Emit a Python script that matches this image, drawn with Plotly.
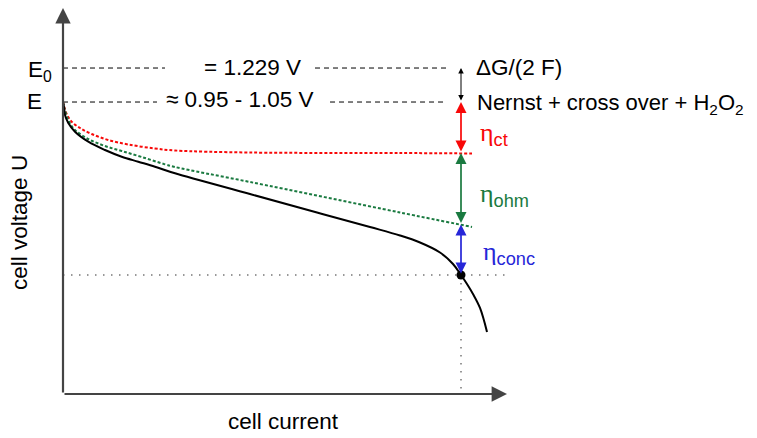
import plotly.graph_objects as go

# ---------------- data (arbitrary, normalised units) ----------------
# cell current (fraction of axis) and cell voltage (fraction of axis)
cur_black = [0.0, 0.0023, 0.0045, 0.0119, 0.027, 0.057, 0.0946, 0.1322, 0.1696, 0.2072,
             0.2523, 0.4212, 0.5721, 0.6914, 0.759, 0.8041, 0.8491, 0.8784, 0.8964,
             0.9099, 0.9234, 0.9392, 0.955]
volt_black = [0.7506, 0.738, 0.7172, 0.6967, 0.6743, 0.6486, 0.6272, 0.61, 0.5972, 0.5843,
              0.5674, 0.5141, 0.4666, 0.4293, 0.4075, 0.3895, 0.3638, 0.3342, 0.3059,
              0.2828, 0.2571, 0.2211, 0.1594]

cur_red = [0.0, 0.0023, 0.0083, 0.0196, 0.0383, 0.0646, 0.102, 0.1471, 0.2072, 0.2523, 0.4212, 0.759, 0.9212]
volt_red = [0.7506, 0.7404, 0.7197, 0.7, 0.6838, 0.6684, 0.6530, 0.6414, 0.6311, 0.6260, 0.6208, 0.6195, 0.6183]

cur_green = [0.0, 0.0023, 0.0119, 0.027, 0.057, 0.0946, 0.1322, 0.1773, 0.2297, 0.2523, 0.4212, 0.759, 0.9212]
volt_green = [0.7506, 0.738, 0.7044, 0.6787, 0.6555, 0.6375, 0.6247, 0.6093, 0.5904, 0.5835, 0.5450, 0.4666, 0.4293]

op_current = 0.8964
E0_level = 0.838
E_level = 0.7506
ct_level = 0.6195
ohm_level = 0.4357
op_voltage = 0.3059
dash_ends = [0.2297, 0.5676, 0.8649]   # E0 dashed segments
dash_ends_E = [0.2117, 0.6014, 0.8649]  # E dashed segments
x_axis_end = 1.0
y_top = 0.9923
dotted_end = 0.9955

label_E0 = "= 1.229 V"
label_E = "≈ 0.95 - 1.05 V"
label_dG = "ΔG/(2 F)"
label_nernst = "Nernst + cross over + H<sub>2</sub>O<sub>2</sub>"
x_title = "cell current"
y_title = "cell voltage U"

RED = "#f80808"
GREEN = "#1a7a40"
BLUE = "#2626d8"
FONT = "Liberation Sans, Arial, Helvetica, sans-serif"
FS = 22.5

fig = go.Figure()

# dashed reference lines
fig.add_trace(go.Scatter(
    x=[0, dash_ends[0], None, dash_ends[1], dash_ends[2]],
    y=[E0_level, E0_level, None, E0_level, E0_level],
    mode="lines", line=dict(color="black", width=1, dash="5px,4px"), hoverinfo="skip"))
fig.add_trace(go.Scatter(
    x=[0, dash_ends_E[0], None, dash_ends_E[1], dash_ends_E[2]],
    y=[E_level, E_level, None, E_level, E_level],
    mode="lines", line=dict(color="black", width=1, dash="5px,4px"), hoverinfo="skip"))

# gray dotted operating point guides
fig.add_trace(go.Scatter(
    x=[0, dotted_end, None, op_current, op_current],
    y=[op_voltage, op_voltage, None, op_voltage, 0],
    mode="lines", line=dict(color="#777777", width=1.5, dash="1.5px,6.5px"), hoverinfo="skip"))

# curves
fig.add_trace(go.Scatter(x=cur_red, y=volt_red, mode="lines", line_shape="spline",
                         line=dict(color=RED, width=2, dash="3px,2px"), hoverinfo="skip"))
fig.add_trace(go.Scatter(x=cur_green, y=volt_green, mode="lines", line_shape="spline",
                         line=dict(color=GREEN, width=2, dash="3px,2px"), hoverinfo="skip"))
fig.add_trace(go.Scatter(x=cur_black, y=volt_black, mode="lines", line_shape="spline",
                         line=dict(color="black", width=2), hoverinfo="skip"))
fig.add_trace(go.Scatter(x=[op_current], y=[op_voltage], mode="markers",
                         marker=dict(color="black", size=9), cliponaxis=False, hoverinfo="skip"))

ann = []
def arrow(x0, y0, x1, y1, color, width, head, size, both=False):
    ann.append(dict(x=x1, y=y1, ax=x0, ay=y0, xref="x", yref="y", axref="x", ayref="y",
                    text="", showarrow=True, arrowhead=head, startarrowhead=head,
                    arrowsize=size, startarrowsize=size, arrowwidth=width, arrowcolor=color,
                    arrowside="end+start" if both else "end"))

# axes
arrow(0, 0, x_axis_end, 0, "#444444", 2.2, 2, 1.4)
arrow(0, 0, 0, y_top, "#444444", 2.2, 2, 1.4)

# loss arrows
arrow(op_current, E_level, op_current, E0_level, "black", 1, 2, 1.1, both=True)
arrow(op_current, ct_level, op_current, E_level, RED, 1.7, 2, 1.3, both=True)
arrow(op_current, ohm_level, op_current, ct_level, GREEN, 1.7, 2, 1.3, both=True)
arrow(op_current, op_voltage, op_current, ohm_level, BLUE, 1.7, 2, 1.3, both=True)

def text(x, y, s, xanchor="center", color="black", size=FS, xshift=0, yshift=0):
    ann.append(dict(x=x, y=y, xref="x", yref="y", text=s, showarrow=False,
                    xanchor=xanchor, yanchor="middle", xshift=xshift, yshift=yshift,
                    font=dict(family=FONT, size=size, color=color)))

text(0, E0_level, "E<sub>0</sub>", xanchor="right", xshift=-9, yshift=-3)
text(0, E_level, "E", xanchor="right", xshift=-19, yshift=1)
text(0.4257, E0_level, label_E0, yshift=1)
text(0.3986, E_level, label_E, yshift=3)
text(0.925, E0_level, label_dG, xanchor="left", yshift=1)
text(0.9279, E_level, label_nernst, xanchor="left", yshift=-2, size=22)

eta = '<span style="font-family:Liberation Serif, serif">η</span>'
text(0.9347, 0.663, eta + "<sub>ct</sub>", xanchor="left", color=RED, size=26, yshift=2)
text(0.9347, 0.5064, eta + "<sub>ohm</sub>", xanchor="left", color=GREEN, size=26, yshift=2)
text(0.941, 0.357, eta + "<sub>conc</sub>", xanchor="left", color=BLUE, size=26, yshift=2)

# axis titles (paper coordinates)
ann.append(dict(x=0.4977, y=-0.07, xref="paper", yref="paper", text=x_title, showarrow=False,
                xanchor="center", yanchor="middle",
                font=dict(family=FONT, size=FS, color="black")))
ann.append(dict(x=-0.097, y=0.4456, xref="paper", yref="paper", text=y_title, showarrow=False,
                textangle=-90, xanchor="center", yanchor="middle",
                font=dict(family=FONT, size=FS, color="black")))

# the page body adds an 8px offset; the figure is sized to fill the rest
fig.update_layout(
    width=749, height=430, autosize=False,
    margin=dict(l=55, r=250, t=0, b=44, pad=0),
    paper_bgcolor="white", plot_bgcolor="white",
    showlegend=False,
    annotations=ann,
    xaxis=dict(range=[0, 1], visible=False, fixedrange=True),
    yaxis=dict(range=[0, y_top], visible=False, fixedrange=True),
)

fig.write_html("out.html")
